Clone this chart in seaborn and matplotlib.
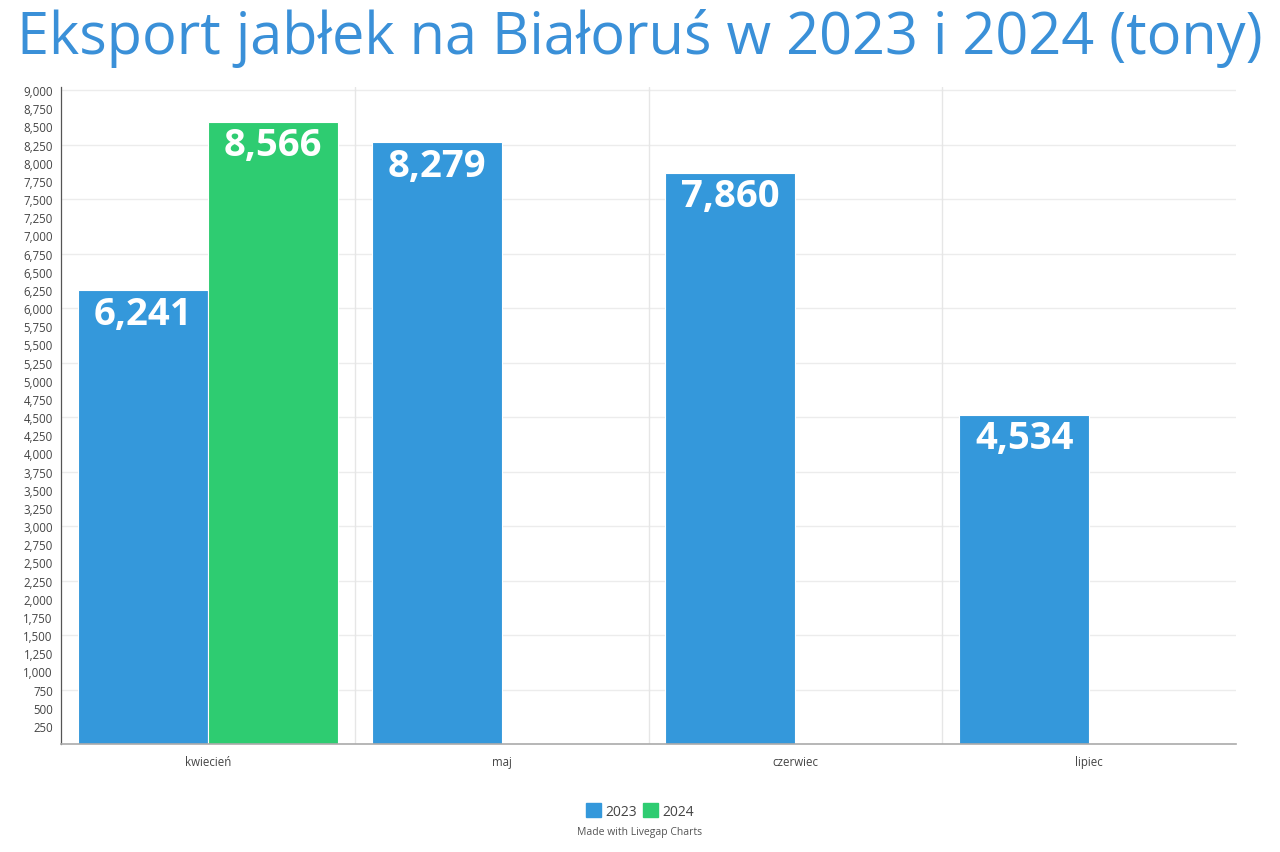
import numpy as np
import pandas as pd
import matplotlib.pyplot as plt
import seaborn as sns

# Data
months = ['kwiecień', 'maj', 'czerwiec', 'lipiec']
exp_2023 = [6241, 8279, 7860, 4534]
exp_2024 = [8566, np.nan, np.nan, np.nan]
years = ['2023', '2024']

df = pd.DataFrame({
    'Miesiąc': months * 2,
    'Rok': [years[0]] * 4 + [years[1]] * 4,
    'Tony': exp_2023 + exp_2024,
})

sns.set_style('white')
plt.rcParams['font.family'] = ['Open Sans', 'DejaVu Sans']

colors = {'2023': '#3498db', '2024': '#2ecc71'}

fig = plt.figure(figsize=(12.8, 8.53), dpi=100)
ax = fig.add_axes([0.0477, 0.1266, 0.9180, 0.7702])

sns.barplot(data=df, x='Miesiąc', y='Tony', hue='Rok', order=months,
            hue_order=years, palette=colors, width=0.886, gap=0,
            saturation=1, ax=ax, legend=False, edgecolor='white', linewidth=0.8)

# grid lines: horizontal every 750, vertical between categories
for v in range(750, 9001, 750):
    ax.axhline(v, color='#ececec', linewidth=1, zorder=0)
for b in [0.5, 1.5, 2.5]:
    ax.axvline(b, color='#e6e6e6', linewidth=1, zorder=0)

ax.set_xlim(-0.5, 3.5)
ax.set_ylim(0, 9041)
ax.set_yticks(np.arange(250, 9001, 250))
ax.set_yticklabels([f'{v:,}' for v in range(250, 9001, 250)])
ax.tick_params(axis='y', labelsize=8.3, colors='#444444', length=4, width=0.8,
               pad=2)
ax.tick_params(axis='x', labelsize=8.3, colors='#444444', length=0, pad=8)
ax.set_xticks([0.5, 1.5, 2.5], minor=True)
ax.tick_params(axis='x', which='minor', length=5, color='#cccccc')
ax.set_xlabel('')
ax.set_ylabel('')

for side in ['top', 'right']:
    ax.spines[side].set_visible(False)
ax.spines['left'].set_color('#555555')
ax.spines['left'].set_linewidth(0.9)
ax.spines['bottom'].set_color('#aaaaaa')
ax.spines['bottom'].set_linewidth(1.2)

# value labels inside bars
for p in ax.patches:
    h = p.get_height()
    if np.isnan(h) or h <= 0:
        continue
    ax.annotate(f'{int(round(h)):,}', (p.get_x() + p.get_width() / 2, h),
                xytext=(0, -3), textcoords='offset points',
                ha='center', va='top', color='white', fontsize=27.5,
                fontweight='bold')

fig.suptitle('Eksport jabłek na Białoruś w 2023 i 2024 (tony)',
             x=0.5, y=0.99, fontsize=41.5, color='#3a90d8', va='top')

handles = [plt.Rectangle((0, 0), 1, 1, color=colors[y]) for y in years]
fig.legend(handles, years, loc='center', bbox_to_anchor=(0.5, 0.048),
           ncol=2, frameon=False, fontsize=10, handlelength=1.1,
           handleheight=1.1, handletextpad=0.3, columnspacing=0.4,
           labelcolor='#444444')
fig.text(0.5, 0.024, 'Made with Livegap Charts', ha='center', va='center',
         fontsize=7.5, color='#555555')

fig.savefig('out.png', dpi=100)
